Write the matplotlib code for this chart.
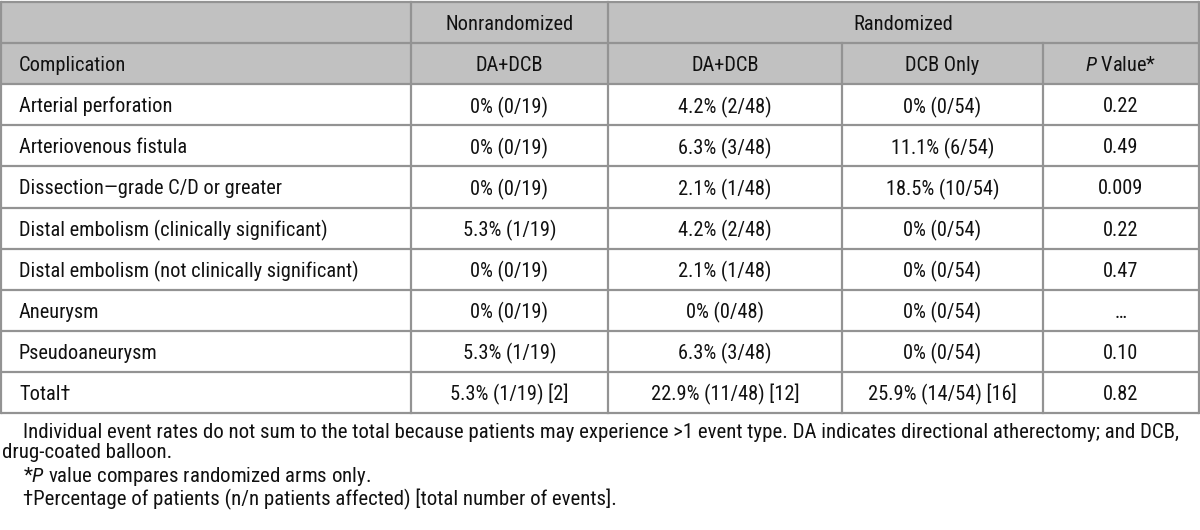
import matplotlib
matplotlib.use("Agg")
import matplotlib.pyplot as plt
from matplotlib import font_manager
from matplotlib.patches import Rectangle

# ---------------- data ----------------
group_headers = ["Nonrandomized", "Randomized"]
col_headers = ["Complication", "DA+DCB", "DA+DCB", "DCB Only", r"$\it{P}$ Value*"]
complications = [
    "Arterial perforation",
    "Arteriovenous fistula",
    "Dissection\u2014grade C/D or greater",
    "Distal embolism (clinically significant)",
    "Distal embolism (not clinically significant)",
    "Aneurysm",
    "Pseudoaneurysm",
    "Total\u2020",
]
nonrand_da_dcb = ["0% (0/19)", "0% (0/19)", "0% (0/19)", "5.3% (1/19)", "0% (0/19)",
                  "0% (0/19)", "5.3% (1/19)", "5.3% (1/19) [2]"]
rand_da_dcb = ["4.2% (2/48)", "6.3% (3/48)", "2.1% (1/48)", "4.2% (2/48)", "2.1% (1/48)",
               "0% (0/48)", "6.3% (3/48)", "22.9% (11/48) [12]"]
rand_dcb_only = ["0% (0/54)", "11.1% (6/54)", "18.5% (10/54)", "0% (0/54)", "0% (0/54)",
                 "0% (0/54)", "0% (0/54)", "25.9% (14/54) [16]"]
p_values = ["0.22", "0.49", "0.009", "0.22", "0.47", "\u2026", "0.10", "0.82"]
footnotes = [
    "Individual event rates do not sum to the total because patients may experience >1 event type. DA indicates directional atherectomy; and DCB,",
    "drug-coated balloon.",
    r"*$\it{P}$ value compares randomized arms only.",
    "\u2020Percentage of patients (n/n patients affected) [total number of events].",
]

# ---------------- fonts ----------------
names = {f.name for f in font_manager.fontManager.ttflist}
if "Liberation Sans Narrow" in names:
    fam = "Liberation Sans Narrow"
elif "Roboto Condensed" in names:
    fam = "Roboto Condensed"
else:
    fam = "Liberation Sans"
plt.rcParams["font.family"] = [fam, "DejaVu Sans"]
plt.rcParams["mathtext.fontset"] = "custom"
plt.rcParams["mathtext.rm"] = fam
plt.rcParams["mathtext.it"] = fam + ":italic"

W, H = 1200, 530
fig = plt.figure(figsize=(W / 100, H / 100), dpi=100)
ax = fig.add_axes([0, 0, 1, 1])
ax.set_xlim(0, W)
ax.set_ylim(H, 0)
ax.axis("off")

renderer = fig.canvas.get_renderer()
def width_at(s, size):
    t = ax.text(0, 0, s, fontsize=size)
    w = t.get_window_extent(renderer).width
    t.remove()
    return w
fs = 10 * 152 / width_at("Arterial perforation", 10)
fs_note = 10 * 1150 / width_at(footnotes[0], 10)

txt_color = "#111111"
line_color = "#939393"
head_fill = "#c1c1c1"
lw = 1.6

col_x = [1, 411, 608, 842, 1043, 1199]
top, bottom = 2, 413
n_rows = 2 + len(complications)
rh = (bottom - top) / n_rows
row_y = [top + i * rh for i in range(n_rows + 1)]

ax.add_patch(Rectangle((col_x[0], row_y[0]), col_x[-1] - col_x[0], row_y[2] - row_y[0],
                       facecolor=head_fill, edgecolor="none", zorder=0))

for y in row_y:
    ax.plot([col_x[0], col_x[-1]], [y, y], color=line_color, lw=lw, solid_capstyle="butt", zorder=2)
for i, x in enumerate(col_x):
    y0 = row_y[0] if i in (0, 1, 2, 5) else row_y[1]
    ax.plot([x, x], [y0, row_y[-1]], color=line_color, lw=lw, zorder=2)

def cy(r):
    return (row_y[r] + row_y[r + 1]) / 2

def ctext(x, y, s):
    ax.text(x, y, s, ha="center", va="center_baseline", fontsize=fs, color=txt_color, zorder=3)

ctext((col_x[1] + col_x[2]) / 2, cy(0), group_headers[0])
ctext((col_x[2] + col_x[5]) / 2, cy(0), group_headers[1])
ax.text(19, cy(1), col_headers[0], ha="left", va="center_baseline", fontsize=fs, color=txt_color)
for j in range(1, 5):
    ctext((col_x[j] + col_x[j + 1]) / 2, cy(1), col_headers[j])

cols = [nonrand_da_dcb, rand_da_dcb, rand_dcb_only, p_values]
for i, name in enumerate(complications):
    r = i + 2
    ax.text(19, cy(r), name, ha="left", va="center_baseline", fontsize=fs, color=txt_color)
    for j, col in enumerate(cols):
        ctext((col_x[j + 1] + col_x[j + 2]) / 2, cy(r), col[i])

note_y = [438, 458, 482, 505]
note_x = [23, 2, 23, 23]
for s, x, y in zip(footnotes, note_x, note_y):
    ax.text(x, y, s, ha="left", va="baseline", fontsize=fs_note, color=txt_color)

fig.savefig("out.png", dpi=100)
